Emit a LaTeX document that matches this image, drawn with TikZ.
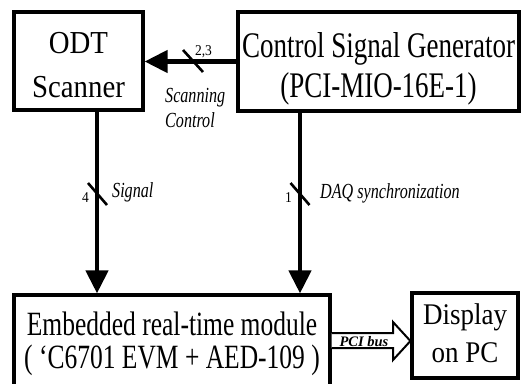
\documentclass[tikz,border=0pt]{standalone}
\usepackage{fontspec}
\setmainfont{Liberation Serif}
\newfontfamily\narrowserif{Liberation Serif}[FakeStretch=0.75]
\newfontfamily\semiserif{Liberation Serif}[FakeStretch=0.9]
\usetikzlibrary{arrows.meta,calc}

\tikzset{
  blockbox/.style={draw, line width=3.2pt, inner sep=0pt, fill=white},
  boxtext/.style={align=center, inner sep=0pt},
  conn/.style={line width=4.5pt, -{Triangle[length=23pt,width=22pt]}},
  busslash/.style={line width=2.6pt},
  tag/.style={inner sep=0pt, font=\semiserif\fontsize{15}{15}\selectfont},
  sigtext/.style={inner sep=0pt, font=\narrowserif\itshape\fontsize{21.5}{25}\selectfont},
  hollowarrow/.style={draw, line width=2pt, fill=white, line join=miter}
}

\begin{document}
\begin{tikzpicture}[x={(1pt,0)}, y={(0,-1pt)}]
\useasboundingbox (0,0) rectangle (521,383);

% blocks
\node[blockbox, minimum width=129pt, minimum height=98pt] (odt) at (78.5,61) {};
\node[blockbox, minimum width=281pt, minimum height=99pt] (ctrl) at (378.5,61.5) {};
\node[blockbox, minimum width=316pt, minimum height=91pt] (emb) at (172,340.5) {};
\node[blockbox, minimum width=106pt, minimum height=85pt] (disp) at (465,335.5) {};

% block captions
\node[boxtext, font=\semiserif\fontsize{32}{44}\selectfont] (odtt) at (78.5,65) {ODT\\Scanner};
\node[boxtext, font=\narrowserif\fontsize{36}{40}\selectfont] (ctrlt) at (378.5,68.5) {Control Signal Generator\\(PCI-MIO-16E-1)};
\node[boxtext, font=\narrowserif\fontsize{34}{33}\selectfont] (embt) at (172,343.5) {Embedded real-time module\\( ‘C6701 EVM + AED-109 )};
\node[boxtext, font=\semiserif\fontsize{30}{38}\selectfont] (dispt) at (465,333.5) {Display\\on PC};

% connector end points
\coordinate (odtout) at ($(odt.south)+(18.5,0)$);
\coordinate (ctrlout) at ($(ctrl.south)+(-78.5,0)$);

% connectors
\draw[conn] (ctrl.west) -- (ctrl.west -| odt.east);
\draw[conn] (odtout) -- (odtout |- emb.north);
\draw[conn] (ctrlout) -- (ctrlout |- emb.north);

% bus width marks
\coordinate (s1) at (193,61);
\coordinate (s2) at (97.5,194);
\coordinate (s3) at (300,194);
\draw[busslash] ($(s1)+(-10,-11)$) -- ($(s1)+(10,11)$);
\draw[busslash] ($(s2)+(-9.5,-11)$) -- ($(s2)+(9.5,11)$);
\draw[busslash] ($(s3)+(-9.5,-11)$) -- ($(s3)+(9.5,11)$);

\node[tag, anchor=base] (n23) at (203.5,55) {2,3};
\node[tag, anchor=base] (n4) at (85.5,202) {4};
\node[tag, anchor=base] (n1) at (288.5,202) {1};

% signal names
\node[sigtext, anchor=west, align=left] (scanlbl) at (165,107.5) {Scanning\\Control};
\node[sigtext, anchor=base west] (siglbl) at (112,197) {Signal};
\node[sigtext, anchor=base west] (daqlbl) at (320,198) {DAQ synchronization};

% PCI bus block arrow
\draw[hollowarrow]
  ($(emb.east |- 0,333)$) -- (393,333) -- (393,322) -- ($(disp.west |- 0,341)$)
  -- (393,360) -- (393,348) -- ($(emb.east |- 0,348)$);
\node[inner sep=0pt, anchor=base, font=\bfseries\itshape\fontsize{14.5}{15}\selectfont] (pcilbl) at (364,346.5) {PCI bus};
\end{tikzpicture}
\end{document}
